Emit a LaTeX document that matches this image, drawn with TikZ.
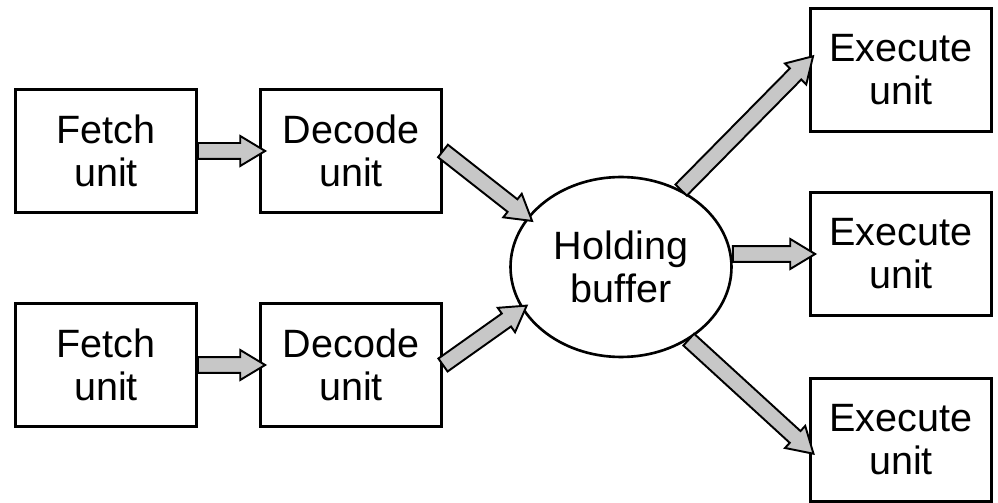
\documentclass[tikz,border=0pt]{standalone}
\usepackage{fontspec}
\setmainfont{Liberation Sans}
\usetikzlibrary{calc, shapes.geometric, shapes.arrows}

% fat grey arrow from one anchor to another
\newcommand{\pipe}[2]{%
  \path let \p1=(#1), \p2=(#2), \n1={veclen(\x2-\x1,\y2-\y1)+3.5pt}, \n2={atan2(\y2-\y1,\x2-\x1)}
    in node[flow, minimum height=\n1, rotate=\n2, anchor=tail] at (#1) {};}

\begin{document}
\begin{tikzpicture}[x=0.02cm, y=-0.02cm,
    unit/.style={draw, line width=1.7pt, minimum width=3.62cm, minimum height=2.46cm,
                 align=center, font=\fontsize{22.5}{24.5}\selectfont},
    buffer/.style={draw, ellipse, line width=1.5pt, minimum width=4.42cm, minimum height=3.6cm,
                   inner sep=0pt, align=center, font=\fontsize{22.5}{24.5}\selectfont},
    flow/.style={single arrow, draw, line width=1.1pt, fill=black!22, inner xsep=0pt,
                 inner ysep=0.14cm, minimum width=0.56cm, single arrow head extend=0.14cm,
                 single arrow tip angle=62, outer sep=0pt}]

   \useasboundingbox (0,0) rectangle (998,503);

   % Nodes
      \node[unit]   (fetch1)  at (106,151)  {Fetch\\unit};
      \node[unit]   (fetch2)  at (106,365)  {Fetch\\unit};
      \node[unit]   (decode1) at (351,151)  {Decode\\unit};
      \node[unit]   (decode2) at (351,365)  {Decode\\unit};
      \node[buffer] (hold)    at (621,267)  {Holding\\buffer};
      \node[unit]   (exec1)   at (901,70)   {Execute\\unit};
      \node[unit]   (exec2)   at (901,254)  {Execute\\unit};
      \node[unit]   (exec3)   at (901,440)  {Execute\\unit};

   % Paths
      \pipe{fetch1.east}{decode1.west}
      \pipe{fetch2.east}{decode2.west}
      \pipe{decode1.east}{hold.152}
      \pipe{decode2.east}{hold.203}
      \pipe{hold.52}{exec1.174}
      \pipe{hold.east |- exec2.west}{exec2.west}
      \pipe{hold.-47}{exec3.186}
   \end{tikzpicture}
\end{document}
